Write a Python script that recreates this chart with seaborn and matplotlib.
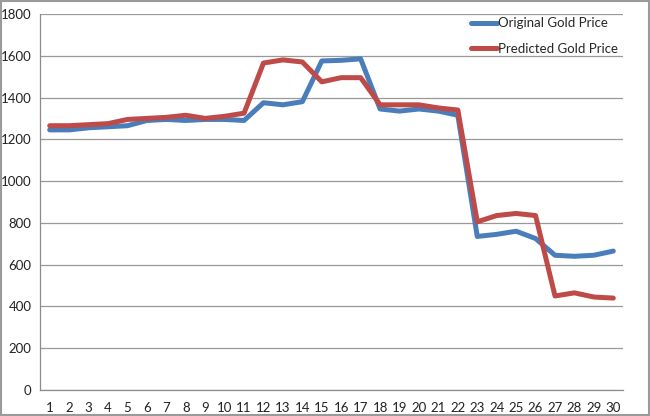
import matplotlib
matplotlib.use("Agg")
import matplotlib.pyplot as plt
import numpy as np
import pandas as pd
import seaborn as sns

days = list(range(1, 31))
original_price = [1245, 1245, 1255, 1260, 1265, 1290, 1295, 1290, 1295, 1295,
                  1290, 1375, 1365, 1380, 1575, 1578, 1585, 1345, 1335, 1345,
                  1335, 1315, 735, 745, 760, 725, 645, 640, 645, 665]
predicted_price = [1265, 1265, 1270, 1275, 1295, 1300, 1305, 1315, 1300, 1310,
                   1325, 1565, 1580, 1570, 1475, 1495, 1495, 1365, 1365, 1365,
                   1350, 1340, 805, 835, 845, 835, 450, 465, 445, 440]
series_names = ["Original Gold Price", "Predicted Gold Price"]
y_ticks = list(range(0, 1801, 200))

df = pd.DataFrame({
    "day": days * 2,
    "price": original_price + predicted_price,
    "series": [series_names[0]] * 30 + [series_names[1]] * 30,
})

sns.set_style("white")
plt.rcParams["font.family"] = ["Lato", "DejaVu Sans"]

fig = plt.figure(figsize=(6.5, 4.16), dpi=100)
ax = fig.add_axes([0.0615, 0.0625, 0.897, 0.904])

sns.lineplot(data=df, x="day", y="price", hue="series",
             palette=["#4A7EBB", "#BE4B48"], linewidth=3.6, ax=ax)

ax.set_xlim(0.5, 30.5)
ax.set_ylim(0, 1800)
ax.set_yticks(y_ticks)
ax.set_xticks(days)
ax.set_xticklabels([str(d) for d in days])
ax.set_xticks(np.arange(0.5, 31, 1), minor=True)
ax.tick_params(axis="x", which="major", length=0, labelsize=9.5, colors="#222222", pad=9)
ax.tick_params(axis="x", which="minor", length=4, color="#888888", direction="out")
ax.tick_params(axis="y", length=0, labelsize=9.5, colors="#222222", pad=6)
ax.grid(axis="y", color="#999999", linewidth=0.9)
ax.set_axisbelow(True)
for side in ["top", "right"]:
    ax.spines[side].set_visible(False)
for side in ["left", "bottom"]:
    ax.spines[side].set_color("#8c8c8c")
    ax.spines[side].set_linewidth(0.9)
ax.set_xlabel("")
ax.set_ylabel("")

leg = ax.legend(loc="upper left", bbox_to_anchor=(0.73, 1.005), frameon=False,
                fontsize=9.5, handlelength=2.0, handletextpad=0.05,
                labelspacing=1.0, borderaxespad=0)
for line in leg.get_lines():
    line.set_linewidth(3.6)

fig.patches.append(plt.Rectangle((0.002, 0.003), 0.996, 0.994, transform=fig.transFigure,
                                 fill=False, edgecolor="#9a9a9a", linewidth=1.5))

fig.savefig("out.png", dpi=100)
